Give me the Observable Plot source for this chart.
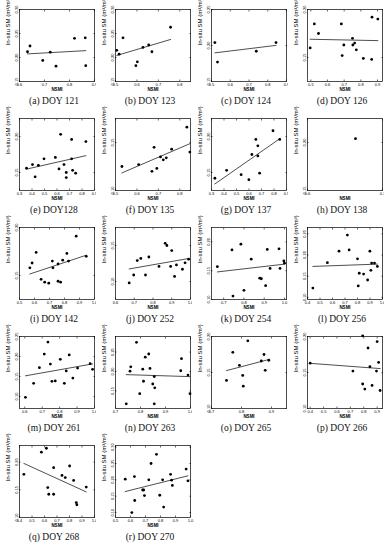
<!DOCTYPE html>
<html><head><meta charset="utf-8">
<script src="https://cdn.jsdelivr.net/npm/d3@7"></script>
<script src="https://cdn.jsdelivr.net/npm/@observablehq/plot@0.6"></script>
<style>
body{margin:0;background:#fff;}
#grid{display:grid;grid-template-columns:repeat(4,96px);grid-auto-rows:109px;width:384px;}
.cell{position:relative;}
.cell svg{display:block;}
.cap{font-family:"Liberation Serif",serif;font-size:9.5px;text-align:center;padding-left:12px;line-height:15px;color:#111;white-space:nowrap;}
</style></head><body><div id="grid"></div>
<script>
// ---- data (NSMI vs in-situ SM) ----
const nsmi121 = [0.632,0.642,0.693,0.723,0.746,0.820,0.863,0.865];
const sm121   = [0.212,0.224,0.194,0.211,0.182,0.240,0.241,0.183];
const nsmi123 = [0.506,0.517,0.535,0.595,0.602,0.628,0.655,0.670,0.757];
const sm123   = [0.215,0.207,0.241,0.183,0.191,0.221,0.226,0.212,0.263];
const nsmi124 = [0.518,0.532,0.739,0.844];
const sm124   = [0.204,0.177,0.192,0.204];
const nsmi126 = [0.496,0.521,0.546,0.683,0.688,0.698,0.750,0.752,0.763,0.773,0.815,0.865,0.867,0.902];
const sm126   = [0.160,0.185,0.175,0.185,0.152,0.163,0.170,0.163,0.165,0.158,0.149,0.148,0.192,0.190];
const nsmi128 = [0.356,0.404,0.425,0.451,0.496,0.587,0.616,0.629,0.656,0.674,0.674,0.717,0.717,0.725,0.749,0.831];
const sm128   = [0.156,0.161,0.144,0.160,0.169,0.171,0.155,0.203,0.161,0.150,0.143,0.196,0.169,0.153,0.149,0.193];
const nsmi135 = [0.530,0.608,0.670,0.680,0.693,0.710,0.723,0.737,0.762,0.833,0.847];
const sm135   = [0.125,0.127,0.120,0.145,0.123,0.135,0.132,0.134,0.143,0.166,0.140];
const nsmi137 = [0.327,0.421,0.537,0.599,0.623,0.655,0.671,0.671,0.685,0.792,0.846];
const sm137   = [0.142,0.153,0.147,0.140,0.175,0.196,0.187,0.173,0.149,0.208,0.196];
const nsmi138 = [0.664];
const sm138   = [0.204];
const nsmi142 = [0.569,0.584,0.611,0.644,0.668,0.695,0.719,0.723,0.757,0.757,0.774,0.788,0.816,0.827,0.878,0.945];
const sm142   = [0.158,0.163,0.174,0.146,0.143,0.142,0.165,0.158,0.162,0.144,0.143,0.166,0.173,0.165,0.191,0.170];
const nsmi252 = [0.673,0.697,0.716,0.735,0.760,0.778,0.832,0.865,0.874,0.894,0.900,0.915,0.925,0.957,0.971,0.990];
const sm252   = [0.098,0.109,0.129,0.132,0.109,0.134,0.121,0.153,0.150,0.121,0.143,0.107,0.123,0.117,0.126,0.131];
const nsmi254 = [0.669,0.741,0.746,0.785,0.800,0.836,0.878,0.886,0.907,0.915,0.929,0.973,0.978,0.997,1.000];
const sm254   = [0.157,0.186,0.106,0.196,0.116,0.170,0.137,0.136,0.124,0.187,0.154,0.188,0.154,0.167,0.163];
const nsmi256 = [0.443,0.559,0.652,0.719,0.733,0.800,0.806,0.814,0.849,0.881,0.899,0.907,0.913,0.936,0.959];
const sm256   = [0.122,0.182,0.209,0.247,0.212,0.191,0.127,0.157,0.155,0.141,0.209,0.164,0.181,0.181,0.173];
const nsmi261 = [0.604,0.651,0.684,0.712,0.733,0.747,0.756,0.775,0.804,0.827,0.838,0.855,0.876,0.903,0.975,0.989];
const sm261   = [0.098,0.133,0.172,0.206,0.236,0.181,0.138,0.139,0.193,0.133,0.164,0.204,0.146,0.171,0.182,0.168];
const nsmi263 = [0.743,0.758,0.761,0.784,0.797,0.809,0.812,0.819,0.833,0.838,0.849,0.855,0.857,0.855,0.964,0.961,0.990,0.998];
const sm263   = [0.117,0.201,0.212,0.275,0.143,0.206,0.175,0.237,0.245,0.208,0.168,0.187,0.158,0.117,0.233,0.202,0.191,0.143];
const nsmi265 = [0.750,0.771,0.793,0.804,0.806,0.821,0.866,0.875,0.879,0.891];
const sm265   = [0.139,0.178,0.160,0.146,0.131,0.194,0.166,0.175,0.153,0.167];
const nsmi266 = [0.400,0.719,0.792,0.792,0.808,0.832,0.846,0.862,0.895,0.900,0.911,0.922];
const sm266   = [0.163,0.152,0.201,0.134,0.127,0.184,0.158,0.132,0.152,0.193,0.164,0.125];
const nsmi268 = [0.435,0.575,0.615,0.626,0.634,0.673,0.673,0.740,0.766,0.801,0.833,0.854,0.859,0.934];
const sm268   = [0.178,0.218,0.225,0.154,0.142,0.142,0.190,0.176,0.172,0.193,0.167,0.127,0.123,0.155];
const nsmi270 = [0.565,0.609,0.626,0.628,0.681,0.688,0.693,0.722,0.737,0.773,0.795,0.814,0.821,0.867,0.874,0.879,0.971,0.983];
const sm270   = [0.202,0.100,0.210,0.137,0.169,0.169,0.152,0.200,0.250,0.278,0.153,0.200,0.117,0.217,0.199,0.183,0.233,0.197];

const panelLetters = ["a","b","c","d","e","f","g","h","i","j","k","l","m","n","o","p","q","r"];
const panelDoy = ["DOY 121","DOY 123","DOY 124","DOY 126","DOY128","DOY 135","DOY 137","DOY 138","DOY 142",
                  "DOY 252","DOY 254","DOY 256","DOY 261","DOY 263","DOY 265","DOY 266","DOY 268","DOY 270"];
const panelNsmi = [nsmi121,nsmi123,nsmi124,nsmi126,nsmi128,nsmi135,nsmi137,nsmi138,nsmi142,
                   nsmi252,nsmi254,nsmi256,nsmi261,nsmi263,nsmi265,nsmi266,nsmi268,nsmi270];
const panelSm = [sm121,sm123,sm124,sm126,sm128,sm135,sm137,sm138,sm142,
                 sm252,sm254,sm256,sm261,sm263,sm265,sm266,sm268,sm270];
const xDomains = [[0.6,0.9],[0.5,0.85],[0.5,0.9],[0.48,0.93],[0.3,0.9],[0.5,0.85],[0.3,0.9],[0.6,0.7],[0.5,1.0],
                  [0.6,1.0],[0.64,1.01],[0.4,1.0],[0.57,1.0],[0.7,1.0],[0.7,0.95],[0.38,0.94],[0.4,1.0],[0.5,1.0]];
const yDomains = [[0.15,0.30],[0.15,0.30],[0.15,0.25],[0.125,0.20],[0.125,0.225],[0.10,0.175],[0.125,0.225],[0.15,0.225],[0.125,0.20],
                  [0.075,0.175],[0.10,0.225],[0.095,0.265],[0.07,0.25],[0.105,0.29],[0.10,0.20],[0.10,0.20],[0.10,0.23],[0.085,0.305]];
const xTickValues = [[0.6,0.7,0.8,0.9],[0.5,0.6,0.7,0.8],[0.5,0.6,0.7,0.8,0.9],[0.5,0.6,0.7,0.8,0.9],[0.3,0.4,0.5,0.6,0.7,0.8,0.9],
                     [0.5,0.6,0.7,0.8],[0.3,0.4,0.5,0.6,0.7,0.8,0.9],[0.6,0.7],[0.5,0.6,0.7,0.8,0.9,1.0],[0.6,0.7,0.8,0.9,1.0],
                     [0.7,0.8,0.9,1.0],[0.4,0.5,0.6,0.7,0.8,0.9,1.0],[0.6,0.7,0.8,0.9,1.0],[0.7,0.8,0.9,1.0],[0.7,0.8,0.9],
                     [0.4,0.5,0.6,0.7,0.8,0.9],[0.4,0.5,0.6,0.7,0.8,0.9,1.0],[0.5,0.6,0.7,0.8,0.9,1.0]];
const yTickValues = [[0.15,0.20,0.25,0.30],[0.15,0.20,0.25,0.30],[0.15,0.20,0.25],[0.15,0.20],[0.15,0.20],[0.10,0.15],[0.15,0.20],[0.15,0.20],[0.15,0.20],
                     [0.10,0.15],[0.10,0.15,0.20],[0.10,0.15,0.20,0.25],[0.10,0.15,0.20,0.25],[0.15,0.20,0.25],[0.10,0.15,0.20],[0.10,0.15,0.20],[0.10,0.15,0.20],[0.10,0.15,0.20,0.25,0.30]];
const xTitle = "NSMI";
const yTitle = "In-situ SM (m³/m³)";

const fmtX = d3.format(".1f"), fmtY = d3.format(".2f"), blank = () => "";
const grid = document.getElementById("grid");
panelDoy.forEach((doy, i) => {
  const data = panelNsmi[i].map((x, j) => ({x, y: panelSm[i][j]}));
  const xt = xTickValues[i], yt = yTickValues[i];
  const marks = [
    Plot.frame({stroke: "#000", strokeWidth: 0.7}),
    Plot.axisX(xt, {anchor: "bottom", tickSize: 0, tickPadding: 1.5, tickFormat: fmtX, fontSize: 4, label: null}),
    Plot.axisY(yt, {anchor: "left", tickSize: 0, tickRotate: -90, tickPadding: 1.5, tickFormat: fmtY, fontSize: 4, label: null}),
    Plot.axisX(xt, {anchor: "bottom", tickSize: 1.5, dy: -1.5, tickFormat: blank, label: null, strokeWidth: 0.6}),
    Plot.axisX(xt, {anchor: "top", tickSize: 1.5, dy: 1.5, tickFormat: blank, label: null, strokeWidth: 0.6}),
    Plot.axisY(yt, {anchor: "left", tickSize: 1.5, dx: 1.5, tickFormat: blank, label: null, strokeWidth: 0.6}),
    Plot.axisY(yt, {anchor: "right", tickSize: 1.5, dx: -1.5, tickFormat: blank, label: null, strokeWidth: 0.6}),
    Plot.text([xTitle], {frameAnchor: "bottom", dy: 9, fontSize: 4.5, fontWeight: "bold"}),
    Plot.text([yTitle], {frameAnchor: "left", dx: -11.5, rotate: -90, fontSize: 6})
  ];
  if (data.length > 1) marks.push(Plot.linearRegressionY(data, {x: "x", y: "y", ci: 0, stroke: "#222", strokeWidth: 0.8}));
  marks.push(Plot.dot(data, {x: "x", y: "y", r: 1.4, fill: "#000"}));
  const svg = Plot.plot({
    width: 96, height: 94, marginLeft: 19, marginRight: 2, marginTop: 9, marginBottom: 13,
    x: {domain: xDomains[i]}, y: {domain: yDomains[i]},
    style: {fontFamily: "'Liberation Sans', Arial, sans-serif", background: "#fff", overflow: "visible"},
    marks
  });
  const cell = document.createElement("div");
  cell.className = "cell";
  cell.appendChild(svg);
  const cap = document.createElement("div");
  cap.className = "cap";
  cap.textContent = `(${panelLetters[i]}) ${doy}`;
  cell.appendChild(cap);
  grid.appendChild(cell);
});
</script></body></html>
